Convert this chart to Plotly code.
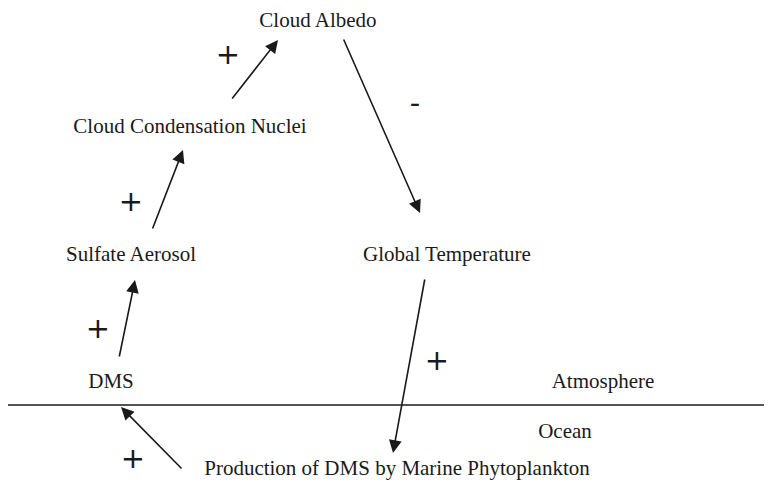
import plotly.graph_objects as go

# Node labels and their positions (pixel-like coordinate system, y down)
node_labels = ["Cloud Albedo", "Cloud Condensation Nuclei", "Sulfate Aerosol",
               "Global Temperature", "DMS", "Atmosphere", "Ocean",
               "Production of DMS by Marine Phytoplankton"]
node_x = [318, 190, 131, 447, 111, 603, 565, 397]
node_y = [22, 128, 256, 256, 383, 383, 433, 470]

# Arrows: tail -> head
arrow_tail_x = [119, 152, 231, 343, 425, 183]
arrow_tail_y = [358, 230, 100, 38, 278, 470]
arrow_head_x = [135, 183, 278, 420, 393, 121]
arrow_head_y = [280, 150, 40, 213, 453, 407]

# Feedback signs
sign_labels = ["+", "-", "+", "+", "+", "+"]
sign_x = [228, 415, 131, 98, 437, 133]
sign_y = [57, 106, 204, 331, 363, 461]

# Boundary between atmosphere and ocean
boundary_x = [5, 780]
boundary_y = [405, 405]

FONT = "Liberation Serif, Times New Roman, serif"
INK = "#1a1a1a"

fig = go.Figure()

fig.add_trace(go.Scatter(
    x=node_x, y=node_y, mode="text", text=node_labels,
    textfont=dict(family=FONT, size=21, color=INK),
    textposition="middle center", hoverinfo="skip", showlegend=False,
    cliponaxis=False))

fig.add_trace(go.Scatter(
    x=sign_x, y=sign_y, mode="text", text=sign_labels,
    textfont=dict(family="DejaVu Sans, sans-serif", size=29, color=INK),
    textposition="middle center", hoverinfo="skip", showlegend=False))

fig.add_trace(go.Scatter(
    x=boundary_x, y=boundary_y, mode="lines",
    line=dict(color=INK, width=1.6), hoverinfo="skip", showlegend=False))

for tx, ty, hx, hy in zip(arrow_tail_x, arrow_tail_y, arrow_head_x, arrow_head_y):
    fig.add_annotation(
        x=hx, y=hy, ax=tx, ay=ty, xref="x", yref="y", axref="x", ayref="y",
        showarrow=True, arrowhead=2, arrowsize=1.6, arrowwidth=1.6,
        arrowcolor=INK, text="", standoff=0, startstandoff=0)

# The page places the figure 8px in from the top-left corner, so the
# axes are offset by 8 units to keep marks at their picture positions.
fig.update_layout(
    width=772, height=495,
    margin=dict(l=0, r=0, t=0, b=0),
    paper_bgcolor="white", plot_bgcolor="white",
    xaxis=dict(range=[8, 780], visible=False, fixedrange=True),
    yaxis=dict(range=[503, 8], visible=False, fixedrange=True),
    showlegend=False,
)

fig.write_html("out.html")
